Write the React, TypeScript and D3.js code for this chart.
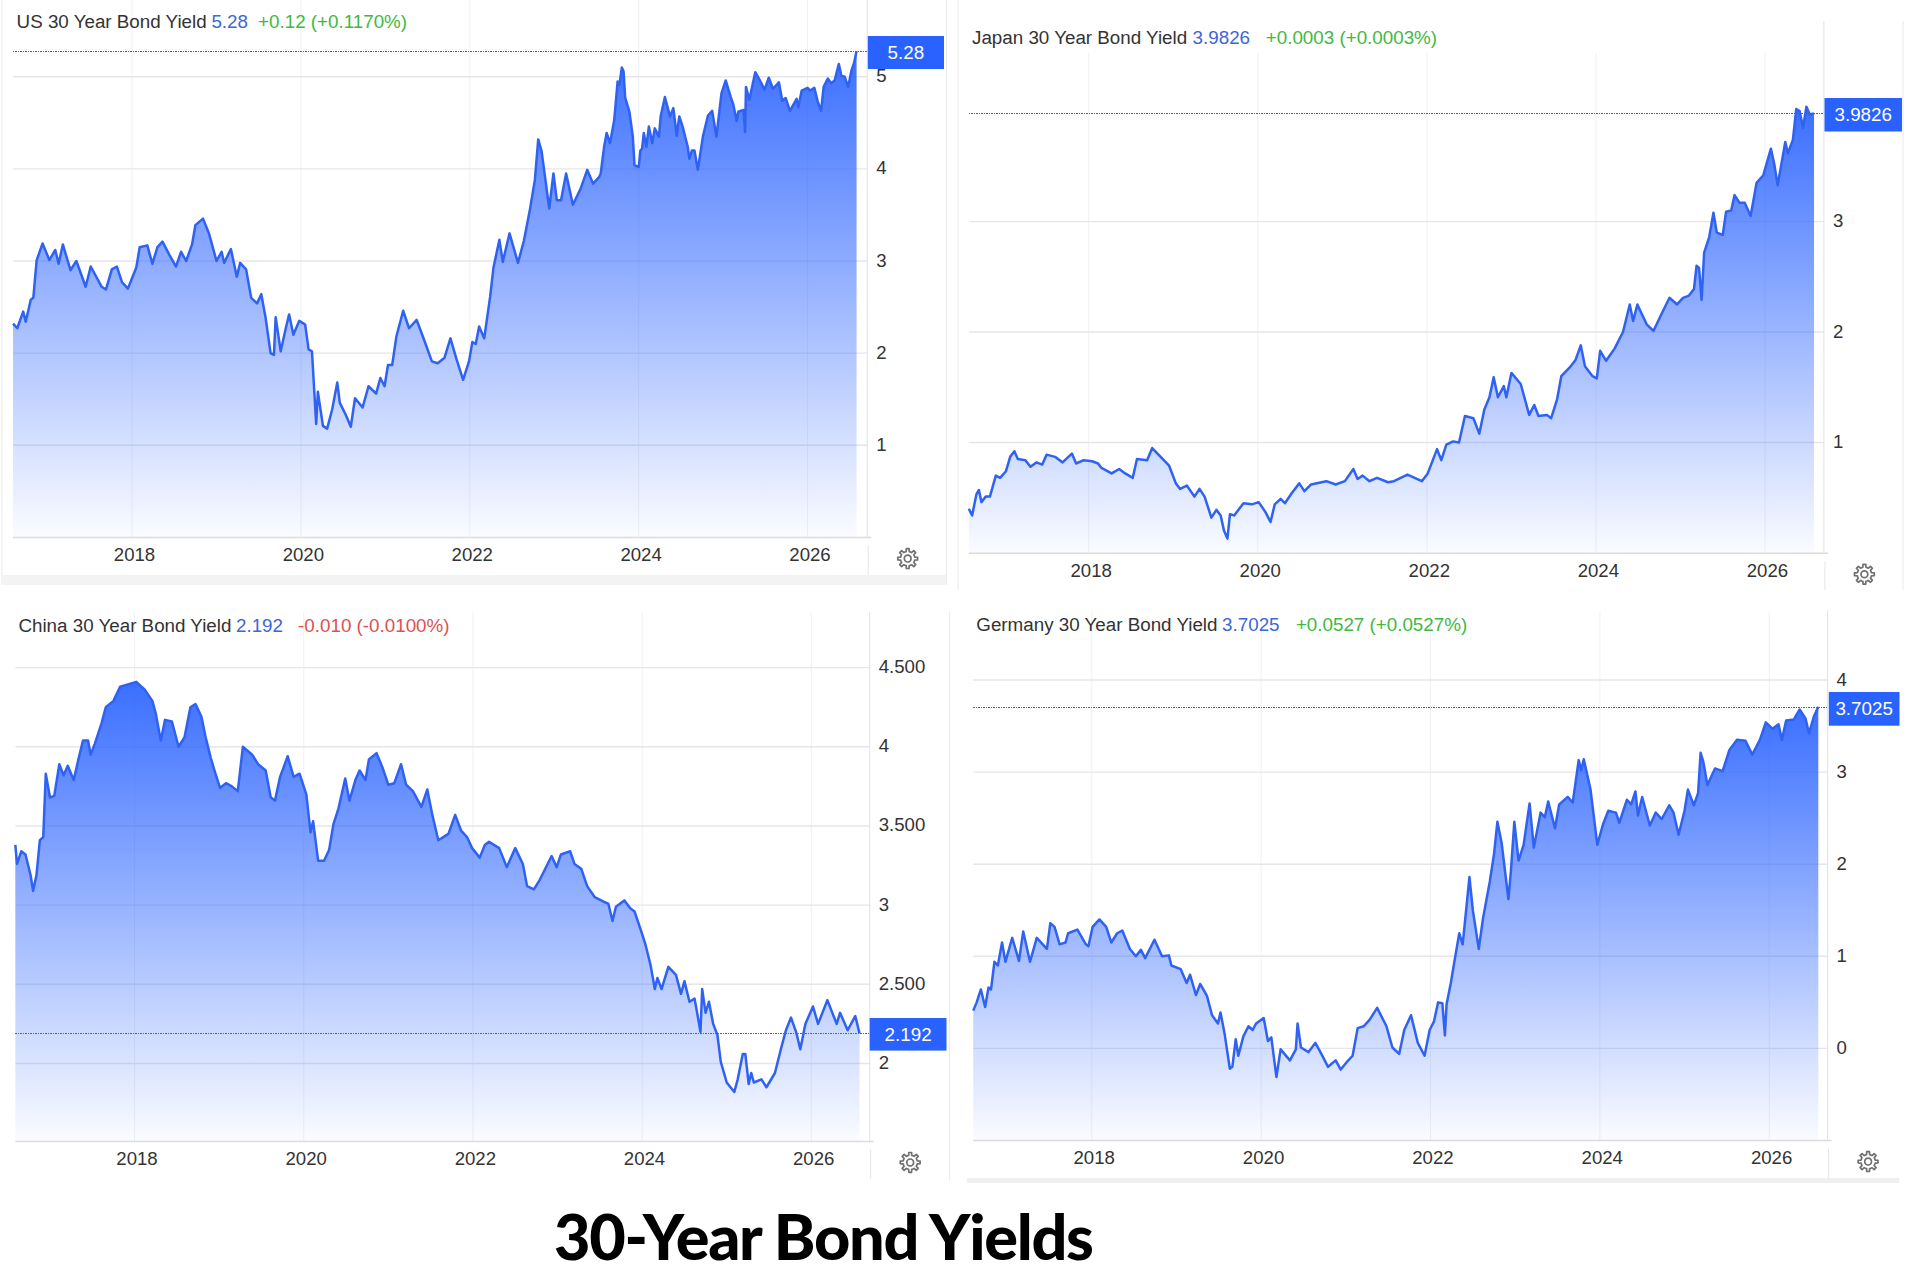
import React from 'react';
import * as d3 from 'd3';

// Values: fractional year, yield in percent
const usYears = [2016.59,2016.64,2016.71,2016.74,2016.80,2016.83,2016.87,2016.94,2017.02,2017.09,2017.13,2017.18,2017.27,2017.34,2017.45,2017.51,2017.64,2017.69,2017.76,2017.82,2017.88,2017.95,2018.05,2018.09,2018.18,2018.24,2018.30,2018.36,2018.44,2018.52,2018.58,2018.64,2018.71,2018.75,2018.84,2018.91,2019.00,2019.06,2019.09,2019.17,2019.24,2019.28,2019.35,2019.41,2019.48,2019.53,2019.58,2019.64,2019.68,2019.70,2019.76,2019.82,2019.86,2019.91,2019.98,2020.05,2020.09,2020.13,2020.18,2020.20,2020.26,2020.31,2020.37,2020.43,2020.46,2020.53,2020.59,2020.64,2020.73,2020.80,2020.89,2020.94,2020.99,2021.03,2021.08,2021.13,2021.21,2021.28,2021.37,2021.46,2021.55,2021.62,2021.70,2021.77,2021.84,2021.92,2021.99,2022.03,2022.07,2022.11,2022.17,2022.24,2022.28,2022.35,2022.39,2022.47,2022.52,2022.57,2022.64,2022.71,2022.77,2022.81,2022.85,2022.94,2022.99,2023.03,2023.08,2023.14,2023.22,2023.31,2023.39,2023.46,2023.53,2023.55,2023.59,2023.62,2023.66,2023.71,2023.75,2023.77,2023.80,2023.82,2023.84,2023.89,2023.93,2023.95,2024.00,2024.02,2024.04,2024.06,2024.09,2024.12,2024.16,2024.19,2024.24,2024.26,2024.31,2024.37,2024.41,2024.45,2024.48,2024.52,2024.58,2024.60,2024.63,2024.66,2024.70,2024.76,2024.82,2024.87,2024.92,2024.98,2025.03,2025.09,2025.12,2025.16,2025.18,2025.24,2025.26,2025.27,2025.31,2025.38,2025.43,2025.49,2025.54,2025.59,2025.66,2025.70,2025.74,2025.79,2025.87,2025.89,2025.93,2026.00,2026.03,2026.08,2026.12,2026.16,2026.19,2026.24,2026.28,2026.32,2026.37,2026.40,2026.44,2026.48,2026.52,2026.55,2026.58];
const usValues = [2.32,2.27,2.45,2.34,2.58,2.60,3.01,3.19,3.01,3.12,2.97,3.18,2.90,3.00,2.72,2.94,2.72,2.69,2.91,2.94,2.77,2.70,2.93,3.15,3.17,2.97,3.15,3.21,3.07,2.94,3.10,3.00,3.18,3.39,3.46,3.30,3.00,3.10,2.98,3.13,2.83,2.98,2.91,2.60,2.54,2.64,2.39,2.00,1.98,2.39,2.02,2.27,2.42,2.20,2.35,2.31,2.04,2.02,1.23,1.58,1.21,1.18,1.39,1.68,1.46,1.33,1.20,1.51,1.41,1.64,1.56,1.73,1.64,1.87,1.87,2.18,2.46,2.27,2.36,2.14,1.91,1.89,1.95,2.16,1.94,1.71,1.91,2.12,2.10,2.29,2.16,2.61,2.93,3.23,2.99,3.30,3.14,2.98,3.22,3.55,3.88,4.32,4.19,3.57,3.95,3.66,3.66,3.95,3.61,3.78,3.99,3.84,3.91,3.95,4.24,4.39,4.28,4.53,4.95,4.91,5.10,5.06,4.77,4.62,4.35,4.04,4.02,4.20,4.22,4.39,4.24,4.46,4.28,4.44,4.35,4.57,4.78,4.57,4.66,4.36,4.57,4.46,4.24,4.11,4.20,4.20,3.99,4.35,4.58,4.63,4.35,4.82,4.96,4.78,4.70,4.52,4.62,4.64,4.40,4.89,4.75,5.05,4.97,4.86,4.99,4.87,4.94,4.74,4.77,4.63,4.76,4.67,4.85,4.88,4.85,4.88,4.73,4.63,4.89,4.98,4.93,4.96,5.14,5.01,5.00,4.89,5.07,5.15,5.28];

const japanYears = [2016.58,2016.62,2016.67,2016.70,2016.73,2016.78,2016.83,2016.90,2016.95,2017.02,2017.07,2017.12,2017.16,2017.25,2017.31,2017.38,2017.45,2017.50,2017.60,2017.69,2017.80,2017.85,2017.94,2018.04,2018.11,2018.15,2018.27,2018.36,2018.43,2018.52,2018.57,2018.69,2018.75,2018.85,2018.95,2019.03,2019.08,2019.16,2019.25,2019.31,2019.37,2019.45,2019.51,2019.56,2019.60,2019.64,2019.67,2019.72,2019.83,2019.93,2020.01,2020.09,2020.15,2020.20,2020.27,2020.32,2020.40,2020.49,2020.55,2020.63,2020.81,2020.92,2021.03,2021.13,2021.18,2021.24,2021.32,2021.41,2021.54,2021.61,2021.77,2021.94,2022.01,2022.12,2022.17,2022.23,2022.31,2022.38,2022.45,2022.55,2022.62,2022.68,2022.74,2022.79,2022.84,2022.91,2022.94,2023.00,2023.11,2023.21,2023.27,2023.32,2023.42,2023.47,2023.54,2023.59,2023.69,2023.76,2023.82,2023.87,2023.96,2024.01,2024.05,2024.12,2024.22,2024.32,2024.40,2024.44,2024.49,2024.60,2024.68,2024.78,2024.87,2024.96,2025.03,2025.10,2025.16,2025.19,2025.22,2025.25,2025.28,2025.34,2025.39,2025.43,2025.50,2025.54,2025.60,2025.64,2025.70,2025.76,2025.83,2025.90,2025.98,2026.07,2026.11,2026.15,2026.24,2026.27,2026.33,2026.37,2026.41,2026.45,2026.49,2026.53,2026.58];
const japanValues = [0.40,0.34,0.53,0.57,0.46,0.51,0.51,0.70,0.68,0.74,0.87,0.92,0.85,0.84,0.78,0.82,0.80,0.89,0.87,0.82,0.90,0.81,0.84,0.83,0.81,0.77,0.72,0.76,0.72,0.68,0.85,0.84,0.95,0.87,0.79,0.63,0.58,0.61,0.51,0.58,0.51,0.32,0.39,0.34,0.20,0.13,0.35,0.34,0.45,0.44,0.46,0.37,0.28,0.44,0.49,0.45,0.54,0.63,0.56,0.62,0.65,0.62,0.65,0.76,0.67,0.70,0.65,0.68,0.64,0.65,0.71,0.65,0.72,0.94,0.84,0.98,1.01,1.00,1.24,1.22,1.08,1.30,1.41,1.59,1.41,1.51,1.41,1.63,1.53,1.25,1.34,1.24,1.25,1.22,1.39,1.60,1.68,1.75,1.88,1.69,1.60,1.58,1.83,1.74,1.85,2.00,2.25,2.10,2.25,2.07,2.01,2.17,2.31,2.25,2.31,2.33,2.39,2.60,2.58,2.29,2.72,2.86,3.08,2.90,2.88,3.09,3.10,3.24,3.17,3.17,3.05,3.35,3.42,3.66,3.52,3.33,3.72,3.62,3.74,4.02,4.00,3.85,4.04,3.97,3.98];

const chinaYears = [2016.59,2016.61,2016.66,2016.71,2016.77,2016.80,2016.84,2016.88,2016.92,2016.95,2017.00,2017.05,2017.11,2017.16,2017.21,2017.28,2017.34,2017.39,2017.45,2017.48,2017.53,2017.61,2017.66,2017.75,2017.83,2017.90,2018.02,2018.12,2018.21,2018.25,2018.31,2018.36,2018.44,2018.52,2018.59,2018.66,2018.72,2018.79,2018.84,2018.90,2018.95,2019.01,2019.08,2019.15,2019.22,2019.28,2019.39,2019.46,2019.55,2019.61,2019.66,2019.72,2019.81,2019.88,2019.95,2020.03,2020.08,2020.11,2020.17,2020.24,2020.30,2020.35,2020.41,2020.49,2020.54,2020.61,2020.66,2020.73,2020.77,2020.86,2020.93,2021.00,2021.07,2021.15,2021.21,2021.29,2021.39,2021.46,2021.52,2021.59,2021.71,2021.79,2021.86,2021.93,2021.99,2022.08,2022.14,2022.19,2022.31,2022.40,2022.50,2022.59,2022.64,2022.72,2022.79,2022.93,2022.99,2023.04,2023.15,2023.20,2023.28,2023.35,2023.44,2023.55,2023.60,2023.65,2023.69,2023.79,2023.86,2023.91,2023.98,2024.04,2024.10,2024.15,2024.18,2024.23,2024.31,2024.40,2024.46,2024.50,2024.56,2024.62,2024.69,2024.71,2024.75,2024.79,2024.84,2024.89,2024.93,2025.00,2025.09,2025.13,2025.19,2025.22,2025.26,2025.29,2025.32,2025.41,2025.47,2025.57,2025.64,2025.70,2025.76,2025.82,2025.87,2025.93,2026.02,2026.08,2026.19,2026.30,2026.34,2026.43,2026.52,2026.57];
const chinaValues = [3.38,3.26,3.34,3.32,3.19,3.09,3.19,3.41,3.43,3.83,3.68,3.69,3.89,3.82,3.88,3.79,3.93,4.04,4.04,3.95,4.02,4.15,4.25,4.29,4.38,4.39,4.41,4.36,4.29,4.21,4.04,4.17,4.16,4.00,4.06,4.25,4.27,4.19,4.06,3.93,3.84,3.74,3.77,3.75,3.72,4.00,3.95,3.89,3.85,3.68,3.66,3.81,3.94,3.81,3.83,3.70,3.46,3.53,3.28,3.28,3.35,3.51,3.61,3.80,3.66,3.79,3.85,3.79,3.92,3.96,3.87,3.76,3.77,3.89,3.76,3.72,3.62,3.73,3.57,3.41,3.45,3.57,3.47,3.43,3.36,3.30,3.38,3.40,3.36,3.24,3.36,3.26,3.12,3.10,3.16,3.31,3.24,3.32,3.34,3.26,3.23,3.12,3.05,3.02,3.01,2.90,2.99,3.03,2.98,2.96,2.85,2.75,2.62,2.47,2.54,2.47,2.61,2.56,2.44,2.52,2.39,2.41,2.20,2.47,2.32,2.39,2.25,2.18,2.01,1.88,1.82,1.90,2.06,2.06,1.87,1.94,1.88,1.90,1.85,1.94,2.09,2.21,2.29,2.20,2.09,2.25,2.36,2.25,2.40,2.25,2.32,2.21,2.30,2.19];

const germanyYears = [2016.60,2016.64,2016.69,2016.74,2016.78,2016.81,2016.85,2016.89,2016.94,2016.98,2017.06,2017.14,2017.19,2017.27,2017.35,2017.47,2017.51,2017.56,2017.62,2017.69,2017.72,2017.83,2017.93,2017.96,2018.01,2018.09,2018.17,2018.23,2018.30,2018.36,2018.45,2018.52,2018.58,2018.63,2018.74,2018.83,2018.91,2018.94,2019.05,2019.12,2019.16,2019.23,2019.28,2019.36,2019.42,2019.49,2019.52,2019.57,2019.63,2019.66,2019.70,2019.73,2019.79,2019.85,2019.90,2019.94,2020.03,2020.08,2020.12,2020.18,2020.23,2020.34,2020.41,2020.43,2020.47,2020.56,2020.64,2020.70,2020.79,2020.88,2020.94,2021.01,2021.08,2021.14,2021.21,2021.28,2021.37,2021.48,2021.55,2021.63,2021.69,2021.77,2021.85,2021.93,2021.99,2022.04,2022.09,2022.14,2022.17,2022.19,2022.24,2022.30,2022.34,2022.38,2022.46,2022.50,2022.57,2022.62,2022.70,2022.75,2022.79,2022.84,2022.92,2022.95,2022.99,2023.04,2023.10,2023.17,2023.22,2023.30,2023.35,2023.39,2023.47,2023.52,2023.62,2023.68,2023.75,2023.78,2023.81,2023.89,2023.97,2024.04,2024.10,2024.19,2024.23,2024.32,2024.37,2024.42,2024.45,2024.50,2024.59,2024.66,2024.73,2024.82,2024.87,2024.93,2025.00,2025.04,2025.11,2025.16,2025.19,2025.22,2025.27,2025.36,2025.45,2025.53,2025.62,2025.72,2025.80,2025.89,2025.96,2026.04,2026.11,2026.15,2026.20,2026.29,2026.36,2026.43,2026.47,2026.53,2026.58];
const germanyValues = [0.41,0.50,0.64,0.45,0.66,0.64,0.94,0.90,1.15,0.94,1.20,0.95,1.27,0.94,1.20,1.08,1.36,1.32,1.13,1.15,1.25,1.29,1.13,1.11,1.32,1.40,1.32,1.15,1.25,1.28,1.08,1.00,1.07,0.98,1.18,1.00,1.01,0.90,0.86,0.71,0.80,0.58,0.70,0.57,0.36,0.27,0.39,0.15,-0.22,-0.20,0.10,-0.08,0.13,0.24,0.20,0.27,0.33,0.08,0.12,-0.31,-0.01,-0.13,-0.01,0.27,0.01,-0.04,0.06,-0.04,-0.20,-0.13,-0.23,-0.15,-0.08,0.22,0.24,0.31,0.44,0.24,0.01,-0.06,0.20,0.36,0.06,-0.08,0.20,0.29,0.50,0.49,0.14,0.48,0.71,1.04,1.25,1.13,1.86,1.50,1.08,1.41,1.81,2.11,2.46,2.23,1.62,1.93,2.46,2.04,2.21,2.66,2.18,2.56,2.51,2.68,2.39,2.65,2.73,2.67,3.13,3.02,3.14,2.81,2.21,2.44,2.58,2.56,2.45,2.70,2.65,2.79,2.53,2.73,2.42,2.56,2.49,2.64,2.56,2.32,2.58,2.81,2.64,2.77,3.21,3.12,2.86,3.04,3.01,3.24,3.35,3.34,3.19,3.35,3.54,3.47,3.52,3.35,3.56,3.57,3.68,3.58,3.42,3.61,3.71];

const xTicks = [2018, 2020, 2022, 2024, 2026];
const usTicks = [1, 2, 3, 4, 5];
const japanTicks = [1, 2, 3];
const chinaTicks = [2, 2.5, 3, 3.5, 4, 4.5];
const chinaTickLabels = ['2', '2.500', '3', '3.500', '4', '4.500'];
const germanyTicks = [0, 1, 2, 3, 4];

const BLUE = '#2962ff';
const FONT = '"Liberation Sans", Arial, sans-serif';

interface PanelProps {
  id: string;
  name: string;
  price: string;
  priceValue: number;
  change: string;
  up: boolean;
  years: number[];
  values: number[];
  ticks: number[];
  tickLabels?: string[];
  // [x at 2018, x at 2026]
  xRange: [number, number];
  // [first tick, last tick] -> [y, y]
  yDomain: [number, number];
  yRange: [number, number];
  left: number;
  axisX: number;
  bottom: number;
  gridTop: number;
  axisTop: number;
  stubBottom: number;
  headerX: [number, number, number];
  headerY: number;
  labelBox: [number, number, number, number];
}

const gearPath = (cx: number, cy: number) => {
  const pts: string[] = [];
  const teeth = 8;
  for (let i = 0; i < teeth; i++) {
    const a = (i / teeth) * 2 * Math.PI;
    const w = Math.PI / teeth;
    [[7.2, -w], [7.2, -w * 0.55], [10, -w * 0.35], [10, w * 0.35], [7.2, w * 0.55]].forEach(([r, d]) => {
      pts.push(`${cx + r * Math.cos(a + d)},${cy + r * Math.sin(a + d)}`);
    });
  }
  return `M${pts.join('L')}Z`;
};

const Panel: React.FC<PanelProps> = (p) => {
  const x = d3.scaleLinear().domain([2018, 2026]).range(p.xRange);
  const y = d3.scaleLinear().domain(p.yDomain).range(p.yRange);
  const pts = p.years.map((yr, i) => [yr, p.values[i]] as [number, number]);

  const line = d3.line<[number, number]>().x(d => x(d[0])).y(d => y(d[1]));
  const area = d3.area<[number, number]>().x(d => x(d[0])).y0(p.bottom).y1(d => y(d[1]));

  const priceY = Math.round(y(p.priceValue)) + 0.5;
  const [bx, by, bw, bh] = p.labelBox;
  const gearX = p.axisX + 40.5;
  const gearY = p.bottom + 21;

  return (
    <g fontFamily={FONT}>
      <defs>
        <linearGradient id={`fill-${p.id}`} x1="0" y1="0" x2="0" y2="1">
          <stop offset="0%" stopColor={BLUE} stopOpacity={0.92} />
          <stop offset="100%" stopColor={BLUE} stopOpacity={0.02} />
        </linearGradient>
      </defs>

      {/* Grid */}
      {xTicks.map(t => (
        <line key={t} x1={x(t)} x2={x(t)} y1={p.gridTop} y2={p.bottom} stroke="#eef0f4" strokeWidth={1} />
      ))}
      {p.ticks.map(t => (
        <line key={t} x1={p.left} x2={p.axisX} y1={y(t)} y2={y(t)} stroke="#e6e6ea" strokeWidth={1.4} />
      ))}

      <path d={area(pts) ?? ''} fill={`url(#fill-${p.id})`} />
      <path d={line(pts) ?? ''} fill="none" stroke="#2f62f2" strokeWidth={2.5} strokeLinejoin="round" />

      {/* Axes */}
      <line x1={p.left} x2={p.axisX + 4} y1={p.bottom} y2={p.bottom} stroke="#dcdcdc" strokeWidth={1.5} />
      <line x1={p.axisX} x2={p.axisX} y1={p.axisTop} y2={p.bottom} stroke="#e2e2e2" strokeWidth={1} />
      <line x1={p.axisX + 1} x2={p.axisX + 1} y1={p.bottom + 8} y2={p.stubBottom} stroke="#e6e6e6" strokeWidth={1} />

      {/* Last price */}
      <line x1={p.left} x2={p.axisX} y1={priceY} y2={priceY} stroke={BLUE} strokeWidth={1} strokeDasharray="1.5 1" shapeRendering="crispEdges" />
      <rect x={bx} y={by} width={bw} height={bh} fill={BLUE} />
      <text x={bx + bw / 2} y={by + bh / 2} fill="#fff" fontSize={18.8} textAnchor="middle" dominantBaseline="central">{p.price}</text>

      {/* Tick labels */}
      {xTicks.map(t => (
        <text key={t} x={x(t) + 2.4} y={p.bottom + 17} fontSize={18.6} fill="#333" textAnchor="middle" dominantBaseline="central">{t}</text>
      ))}
      {p.ticks.map((t, i) => (
        <text key={t} x={p.axisX + 9} y={y(t) - 1} fontSize={18.6} fill="#333" dominantBaseline="central">
          {p.tickLabels ? p.tickLabels[i] : t}
        </text>
      ))}

      {/* Header */}
      <g fontSize={18.8}>
        <text x={p.headerX[0]} y={p.headerY} fill="#333" dominantBaseline="central">{p.name}</text>
        <text x={p.headerX[1]} y={p.headerY} fill="#3d66d6" dominantBaseline="central">{p.price}</text>
        <text x={p.headerX[2]} y={p.headerY} fill={p.up ? '#41b941' : '#dd5050'} dominantBaseline="central">{p.change}</text>
      </g>

      <path d={gearPath(gearX, gearY)} fill="none" stroke="#6f6f6f" strokeWidth={1.7} strokeLinejoin="round" />
      <circle cx={gearX} cy={gearY} r={3.4} fill="none" stroke="#6f6f6f" strokeWidth={1.7} />
    </g>
  );
};

const App: React.FC = () => (
  <svg
    width={1927}
    height={1275}
    style={{ position: 'absolute', left: 0, top: 0, background: '#fff' }}
  >
    {/* Frame pieces around the pasted charts */}
    <g stroke="#e8e8e8" strokeWidth={1} fill="none">
      <line x1={2} x2={2} y1={0} y2={585} />
      <line x1={946.5} x2={946.5} y1={0} y2={585} />
      <line x1={958} x2={958} y1={0} y2={590} />
      <line x1={1903} x2={1903} y1={21} y2={590} />
      <line x1={949.6} x2={949.6} y1={612} y2={1180} />
    </g>
    <rect x={2} y={575} width={944.5} height={10} fill="#f3f3f3" />
    <rect x={967} y={1178} width={932.5} height={5} fill="#efefef" />

    <Panel
      id="us" name="US 30 Year Bond Yield" price="5.28" priceValue={5.28} change="+0.12 (+0.1170%)" up
      years={usYears} values={usValues} ticks={usTicks}
      xRange={[132.1, 807.6]} yDomain={[1, 5]} yRange={[445.2, 76.8]}
      left={12.9} axisX={867.2} bottom={537.6} gridTop={0} axisTop={0} stubBottom={575}
      headerX={[16.6, 211.4, 258.1]} headerY={21} labelBox={[867.8, 36, 76.2, 33]}
    />
    <Panel
      id="japan" name="Japan 30 Year Bond Yield" price="3.9826" priceValue={3.9826} change="+0.0003 (+0.0003%)" up
      years={japanYears} values={japanValues} ticks={japanTicks}
      xRange={[1088.8, 1765]} yDomain={[1, 3]} yRange={[442.5, 221.6]}
      left={968.9} axisX={1823.9} bottom={553.3} gridTop={53} axisTop={21} stubBottom={590}
      headerX={[972, 1192.6, 1265.8]} headerY={37.5} labelBox={[1824.5, 98, 77.5, 33.5]}
    />
    <Panel
      id="china" name="China 30 Year Bond Yield" price="2.192" priceValue={2.192} change="-0.010 (-0.0100%)" up={false}
      years={chinaYears} values={chinaValues} ticks={chinaTicks} tickLabels={chinaTickLabels}
      xRange={[134.6, 811.3]} yDomain={[2, 4.5]} yRange={[1063.5, 667.6]}
      left={15.4} axisX={869.7} bottom={1141.4} gridTop={612} axisTop={612} stubBottom={1179}
      headerX={[18.4, 236, 298.1]} headerY={625} labelBox={[869.7, 1018, 76.8, 32.6]}
    />
    <Panel
      id="germany" name="Germany 30 Year Bond Yield" price="3.7025" priceValue={3.7025} change="+0.0527 (+0.0527%)" up
      years={germanyYears} values={germanyValues} ticks={germanyTicks}
      xRange={[1091.8, 1769.2]} yDomain={[0, 4]} yRange={[1048.4, 680]}
      left={973.2} axisX={1827.6} bottom={1140.6} gridTop={612} axisTop={610} stubBottom={1178}
      headerX={[976.3, 1222.1, 1295.9]} headerY={624.5} labelBox={[1828.8, 692, 70.7, 33.7]}
    />

    <text
      x={554} y={1260}
      fontFamily='Lato, "Open Sans", sans-serif' fontWeight={900} fontSize={63}
      fill="#000" textLength={540} lengthAdjust="spacing"
    >
      30-Year Bond Yields
    </text>
  </svg>
);

export default App;
